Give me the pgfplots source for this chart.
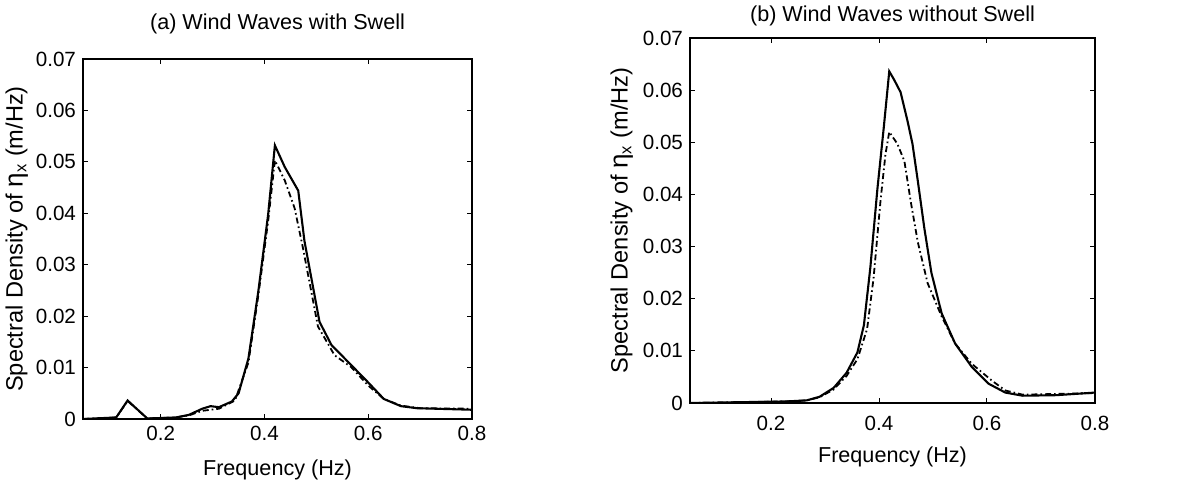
\documentclass[border=0pt]{standalone}
\usepackage{fontspec}
\setmainfont{Liberation Sans}
\usepackage{pgfplots}
\pgfplotsset{compat=1.18}

\pgfplotsset{
  specax/.style={
    scale only axis,
    xmin=0.05, xmax=0.8, ymin=0, ymax=0.07,
    xtick={0.2,0.4,0.6,0.8},
    xticklabels={0.2,0.4,0.6,0.8},
    ytick={0,0.01,0.02,0.03,0.04,0.05,0.06,0.07},
    yticklabels={0,0.01,0.02,0.03,0.04,0.05,0.06,0.07},
    scaled y ticks=false,
    tick align=inside,
    major tick length=2.5pt,
    tick style={black, line width=0.5pt},
    axis line style={line width=0.7pt},
    ticklabel style={font=\fontsize{10.3}{12}\selectfont},
    xlabel style={font=\fontsize{10.8}{12}\selectfont},
    ylabel style={font=\fontsize{11.8}{13}\selectfont},
    title style={font=\fontsize{10.8}{12}\selectfont},
    /pgf/number format/assume math mode=true,
    xlabel={Frequency (Hz)},
    ylabel={Spectral Density of {\fontsize{13}{13}\selectfont η}\textsubscript{x} (m/Hz)},
    clip=true,
  },
  solidc/.style={black, line width=1.05pt},
  dashc/.style={black, line width=0.9pt, dash pattern=on 3pt off 1.5pt on 0.8pt off 1.5pt},
}

\begin{document}
\begin{tikzpicture}
\useasboundingbox (0,0) rectangle (589pt,242pt);

% (a) with swell
\begin{axis}[specax,
  at={(41.5pt,32.5pt)}, anchor=south west,
  width=194.5pt, height=180pt,
  title={(a) Wind Waves with Swell},
  title style={yshift=3pt},
  xlabel style={yshift=-2.5pt},
  ylabel style={yshift=-3pt},
]
\addplot[solidc] coordinates {
  (0.05,0.0000) (0.114,0.0003) (0.136,0.0036) (0.174,0.0001) (0.229,0.0003)
  (0.254,0.0008) (0.280,0.0020) (0.296,0.0025) (0.312,0.0023) (0.337,0.0034)
  (0.350,0.0050) (0.369,0.0118) (0.388,0.0248) (0.407,0.0398) (0.420,0.0532)
  (0.439,0.0490) (0.465,0.0444) (0.477,0.0346) (0.506,0.0189) (0.529,0.0144)
  (0.567,0.0105) (0.599,0.0072) (0.630,0.0039) (0.663,0.0025) (0.694,0.0021)
  (0.800,0.0018)
};
\addplot[dashc] coordinates {
  (0.05,0.0000) (0.114,0.0003) (0.136,0.0035) (0.174,0.0001) (0.229,0.0003)
  (0.254,0.0007) (0.280,0.0016) (0.296,0.0018) (0.312,0.0020) (0.343,0.0036)
  (0.369,0.0110) (0.388,0.0240) (0.407,0.0385) (0.420,0.0503) (0.439,0.0464)
  (0.458,0.0410) (0.474,0.0333) (0.503,0.0180) (0.535,0.0124) (0.567,0.0101)
  (0.600,0.0065) (0.630,0.0039) (0.663,0.0026) (0.700,0.0021) (0.800,0.0020)
};
\end{axis}

% (b) without swell
\begin{axis}[specax,
  at={(345pt,40.5pt)}, anchor=south west,
  width=202.5pt, height=182.5pt,
  title={(b) Wind Waves without Swell},
  title style={yshift=-3.5pt},
  xlabel style={yshift=-1pt},
  xticklabel style={yshift=-3pt},
  ylabel style={yshift=-2pt},
]
\addplot[solidc] coordinates {
  (0.05,0.0000) (0.228,0.0003) (0.266,0.0005) (0.290,0.0012) (0.316,0.0029)
  (0.340,0.0058) (0.360,0.0097) (0.372,0.0149) (0.384,0.0260) (0.397,0.0410)
  (0.409,0.0530) (0.419,0.0636) (0.428,0.0620) (0.440,0.0596) (0.453,0.0540)
  (0.462,0.0497) (0.472,0.0425) (0.484,0.0335) (0.497,0.0250) (0.516,0.0172)
  (0.541,0.0114) (0.572,0.0069) (0.603,0.0037) (0.634,0.0020) (0.666,0.0014)
  (0.728,0.0015) (0.800,0.0020)
};
\addplot[dashc] coordinates {
  (0.05,0.0000) (0.228,0.0003) (0.266,0.0005) (0.290,0.0011) (0.316,0.0026)
  (0.340,0.0052) (0.360,0.0084) (0.378,0.0142) (0.390,0.0240) (0.403,0.0390)
  (0.412,0.0477) (0.419,0.0520) (0.434,0.0497) (0.447,0.0464) (0.459,0.0385)
  (0.472,0.0308) (0.490,0.0230) (0.516,0.0166) (0.541,0.0114) (0.572,0.0075)
  (0.609,0.0043) (0.634,0.0024) (0.666,0.0016) (0.800,0.0019)
};
\end{axis}
\end{tikzpicture}
\end{document}
